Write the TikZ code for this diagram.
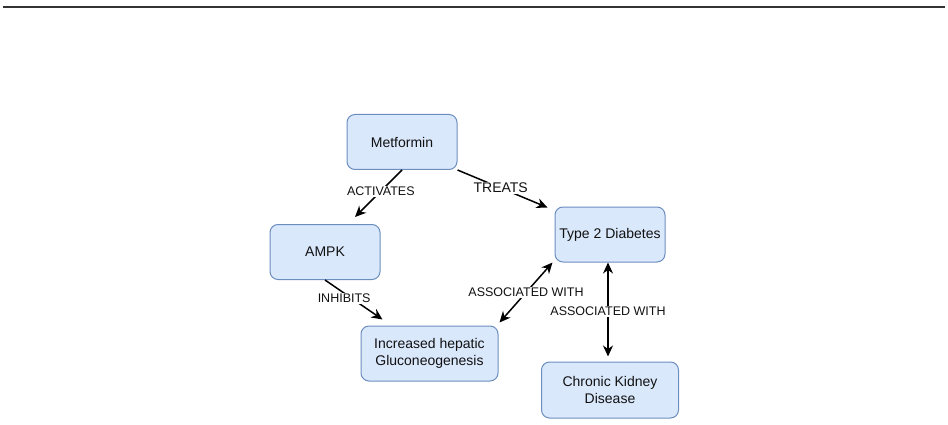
\documentclass[tikz,border=0pt]{standalone}
\usepackage{fontspec}
\setmainfont{Liberation Sans}
\usetikzlibrary{arrows.meta}
\definecolor{boxfill}{HTML}{DAE8FC}
\definecolor{boxline}{HTML}{6C8EBF}
\definecolor{inkc}{HTML}{111111}
\begin{document}
\begin{tikzpicture}[x=1pt,y=-1pt,
  box/.style={draw=boxline, fill=boxfill, rounded corners=8pt, line width=1pt,
    minimum width=110pt, minimum height=55pt, align=center, inner sep=0pt,
    text=inkc, font=\fontsize{14}{17}\selectfont},
  widebox/.style={box, minimum width=137pt},
  conn/.style={line width=1.5pt, draw=black,
    -{Stealth[length=11pt,width=10pt,inset=3.5pt]}},
  twoway/.style={line width=1.5pt, draw=black,
    {Stealth[length=11pt,width=10pt,inset=3.5pt]}-{Stealth[length=11pt,width=10pt,inset=3.5pt]}},
  lbl/.style={fill=white, inner sep=1pt, text=inkc, font=\fontsize{12.5}{14}\selectfont},
  biglbl/.style={lbl, font=\fontsize{14}{16}\selectfont}
]
\useasboundingbox (0,0) rectangle (948,425);
\draw[line width=1.3pt, draw=black!80] (3,7) -- (945,7);

\node[box] (met) at (402,142) {Metformin};
\node[box] (t2d) at (610,234.5) {Type 2 Diabetes};
\node[box] (ampk) at (325,252) {AMPK};
\node[widebox] (inc) at (429.5,353.5) {Increased hepatic\\Gluconeogenesis};
\node[widebox, minimum height=56pt] (ckd) at (610,390) {Chronic Kidney\\Disease};

\draw[conn] (met.south) -- node[lbl, pos=0.45] (l1) {ACTIVATES} ([shift={(30,-7)}]ampk.north);
\draw[conn] (met.south east) -- node[biglbl, pos=0.48] (l2) {TREATS} ([shift={(-7,1)}]t2d.north west);
\draw[conn] (ampk.south) -- node[lbl, pos=0.42, xshift=-5pt, yshift=-2pt] (l3) {INHIBITS} ([shift={(22,-6)}]inc.north west);
\draw[twoway] ([shift={(1,-3)}]inc.north east) -- node[lbl, pos=0.5] (l4) {ASSOCIATED WITH} ([shift={(-2,0)}]t2d.south west);
\draw[twoway] ([shift={(-2,0)}]t2d.south) -- node[lbl, pos=0.5, yshift=-2pt] (l5) {ASSOCIATED WITH} ([shift={(-2,-5)}]ckd.north);
\end{tikzpicture}
\end{document}
